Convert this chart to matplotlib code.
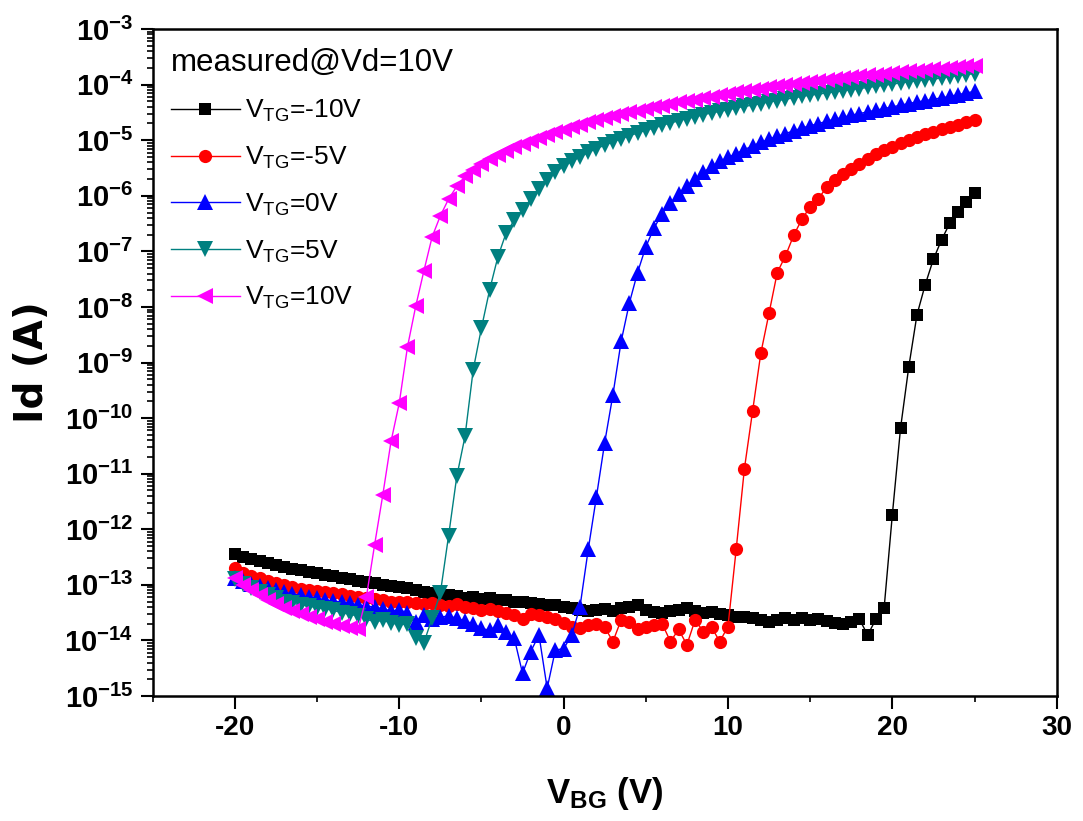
# Id-VBG transfer curves of a dual-gate FET at several top-gate voltages
import numpy as np
import matplotlib
matplotlib.use('Agg')
import matplotlib.pyplot as plt
from matplotlib.ticker import MultipleLocator, LogLocator, NullFormatter, FixedLocator

plt.rcParams['font.family'] = ['Liberation Sans', 'DejaVu Sans']
plt.rcParams['mathtext.fontset'] = 'custom'
plt.rcParams['mathtext.rm'] = 'Liberation Sans'
plt.rcParams['mathtext.it'] = 'Liberation Sans:italic'
plt.rcParams['mathtext.bf'] = 'Liberation Sans:bold'
plt.rcParams['mathtext.sf'] = 'Liberation Sans:bold'

# back-gate sweep, -20 V .. 25 V in 0.5 V steps
vbg = np.arange(-20, 25.01, 0.5)

# log10(Id), one value per sweep point
log_id_m10 = [
    -12.45, -12.50, -12.53, -12.57, -12.60, -12.64, -12.67, -12.71, -12.73, -12.76,
    -12.79, -12.82, -12.84, -12.87, -12.90, -12.93, -12.95, -12.97, -13.00, -13.02,
    -13.04, -13.06, -13.09, -13.12, -13.14, -13.17, -13.19, -13.20, -13.23, -13.22,
    -13.25, -13.24, -13.27, -13.28, -13.30, -13.31, -13.33, -13.34, -13.36, -13.37,
    -13.39, -13.42, -13.45, -13.47, -13.45, -13.44, -13.47, -13.42, -13.39, -13.37,
    -13.45, -13.48, -13.50, -13.47, -13.45, -13.42, -13.47, -13.50, -13.49, -13.52,
    -13.55, -13.58, -13.57, -13.60, -13.63, -13.66, -13.63, -13.60, -13.63, -13.60,
    -13.63, -13.61, -13.65, -13.68, -13.70, -13.66, -13.62, -13.90, -13.62, -13.42,
    -11.74, -10.18, -9.08, -8.14, -7.60, -7.14, -6.79, -6.49, -6.29, -6.12,
    -5.95]
log_id_m5 = [
    -12.70, -12.78, -12.84, -12.88, -12.93, -12.97, -13.01, -13.04, -13.07, -13.09,
    -13.11, -13.13, -13.15, -13.17, -13.20, -13.22, -13.24, -13.26, -13.28, -13.30,
    -13.31, -13.30, -13.33, -13.34, -13.32, -13.36, -13.38, -13.35, -13.40, -13.42,
    -13.45, -13.43, -13.47, -13.50, -13.55, -13.62, -13.52, -13.55, -13.58, -13.62,
    -13.68, -13.75, -13.78, -13.72, -13.70, -13.76, -14.02, -13.63, -13.66, -13.80,
    -13.76, -13.72, -13.70, -14.02, -13.80, -14.08, -13.63, -13.84, -13.76, -14.02,
    -13.75, -12.36, -10.91, -9.87, -8.83, -8.11, -7.38, -7.08, -6.71, -6.42,
    -6.20, -6.05, -5.85, -5.72, -5.61, -5.51, -5.42, -5.33, -5.25, -5.18,
    -5.12, -5.05, -4.99, -4.94, -4.89, -4.85, -4.80, -4.76, -4.72, -4.68,
    -4.64]
log_id_0 = [
    -12.88, -12.93, -12.98, -13.02, -13.06, -13.10, -13.13, -13.16, -13.19, -13.21,
    -13.24, -13.27, -13.29, -13.31, -13.33, -13.36, -13.38, -13.40, -13.43, -13.47,
    -13.45, -13.50, -13.66, -13.55, -13.62, -13.58, -13.56, -13.60, -13.65, -13.70,
    -13.78, -13.82, -13.72, -13.85, -13.96, -14.59, -14.20, -13.90, -14.86, -14.17,
    -14.15, -13.90, -13.39, -12.36, -11.41, -10.44, -9.58, -8.62, -7.93, -7.38,
    -6.92, -6.58, -6.32, -6.13, -5.97, -5.83, -5.70, -5.58, -5.47, -5.38,
    -5.31, -5.24, -5.17, -5.10, -5.04, -4.98, -4.93, -4.88, -4.83, -4.78,
    -4.74, -4.70, -4.66, -4.62, -4.59, -4.55, -4.52, -4.49, -4.46, -4.43,
    -4.40, -4.37, -4.34, -4.31, -4.29, -4.26, -4.24, -4.21, -4.18, -4.15,
    -4.12]
log_id_p5 = [
    -12.90, -12.98, -13.05, -13.12, -13.18, -13.24, -13.30, -13.33, -13.36, -13.38,
    -13.41, -13.43, -13.46, -13.50, -13.53, -13.56, -13.62, -13.66, -13.64, -13.68,
    -13.72, -13.70, -13.95, -14.04, -13.60, -13.15, -12.12, -11.05, -10.33, -9.13,
    -8.38, -7.69, -7.10, -6.67, -6.44, -6.25, -6.06, -5.88, -5.72, -5.58,
    -5.47, -5.38, -5.30, -5.22, -5.15, -5.09, -5.03, -4.97, -4.92, -4.87,
    -4.82, -4.78, -4.73, -4.69, -4.65, -4.61, -4.58, -4.54, -4.51, -4.48,
    -4.45, -4.42, -4.39, -4.37, -4.34, -4.31, -4.29, -4.26, -4.24, -4.21,
    -4.19, -4.17, -4.15, -4.13, -4.11, -4.09, -4.07, -4.05, -4.03, -4.01,
    -3.99, -3.97, -3.95, -3.93, -3.91, -3.90, -3.88, -3.86, -3.84, -3.82,
    -3.80]
log_id_p10 = [
    -12.88, -13.00, -13.10, -13.19, -13.27, -13.34, -13.41, -13.47, -13.52, -13.57,
    -13.62, -13.66, -13.70, -13.74, -13.78, -13.80, -13.22, -12.28, -11.38, -10.42,
    -9.73, -8.72, -7.99, -7.35, -6.74, -6.36, -6.06, -5.83, -5.65, -5.53,
    -5.43, -5.34, -5.26, -5.19, -5.13, -5.07, -5.01, -4.96, -4.91, -4.86,
    -4.81, -4.77, -4.72, -4.68, -4.64, -4.60, -4.56, -4.53, -4.50, -4.47,
    -4.44, -4.41, -4.38, -4.35, -4.32, -4.30, -4.27, -4.24, -4.22, -4.19,
    -4.17, -4.14, -4.12, -4.09, -4.07, -4.05, -4.03, -4.01, -3.99, -3.97,
    -3.95, -3.93, -3.91, -3.89, -3.88, -3.86, -3.85, -3.83, -3.82, -3.80,
    -3.79, -3.77, -3.76, -3.75, -3.74, -3.72, -3.71, -3.70, -3.69, -3.67,
    -3.66]

series = [log_id_m10, log_id_m5, log_id_0, log_id_p5, log_id_p10]
labels = [r'V$_{\mathrm{TG}}$=-10V', r'V$_{\mathrm{TG}}$=-5V', r'V$_{\mathrm{TG}}$=0V',
          r'V$_{\mathrm{TG}}$=5V', r'V$_{\mathrm{TG}}$=10V']
colors = ['#000000', '#ff0000', '#0000ff', '#008080', '#ff00ff']
markers = ['s', 'o', '^', 'v', '<']
msizes = [9, 9.5, 12, 12, 12]

fig = plt.figure(figsize=(10.83, 8.21), dpi=100)
ax = fig.add_axes([0.141, 0.1522, 0.8347, 0.8124])

for logs, lab, c, m, ms in zip(series, labels, colors, markers, msizes):
    ax.plot(vbg, np.power(10.0, logs), color=c, marker=m, markersize=ms,
            markeredgewidth=0, lw=1.0, label=lab)

ax.set_yscale('log')
ax.set_xlim(-25, 30)
ax.set_ylim(1e-15, 1e-3)

# x ticks
ax.xaxis.set_minor_locator(MultipleLocator(5))
xt = [-20, -10, 0, 10, 20, 30]
ax.set_xticks(xt)
ax.set_xticklabels([str(v) for v in xt], fontweight='bold', fontsize=20)

# y ticks
decades = list(range(-15, -2))
ax.yaxis.set_major_locator(FixedLocator([10.0 ** e for e in decades]))
ax.set_yticklabels([r'$\mathbf{10^{%d}}$' % e for e in decades], fontsize=21)
ax.yaxis.set_minor_locator(LogLocator(base=10, subs=np.arange(2, 10), numticks=100))
ax.yaxis.set_minor_formatter(NullFormatter())

ax.tick_params(which='both', direction='out', top=False, right=False)
ax.tick_params(which='major', length=9, width=1.5, pad=5)
ax.tick_params(which='minor', length=4.5, width=1.2)
for sp in ax.spines.values():
    sp.set_linewidth(1.8)

ax.set_xlabel(r'V$_{\mathsf{BG}}$ (V)', fontsize=25, fontweight='bold')
ax.xaxis.set_label_coords(0.5, -0.118)
ax.set_ylabel('Id (A)', fontsize=28, fontweight='bold', family='DejaVu Sans')
ax.yaxis.set_label_coords(-0.113, 0.5)

leg = ax.legend(loc='upper left', frameon=False, title='measured@Vd=10V',
                alignment='left', prop={'size': 19}, title_fontsize=22.5,
                numpoints=1, handlelength=2.6, handletextpad=0.2,
                labelspacing=0.78, borderaxespad=0.4, borderpad=0.3)

fig.savefig('out.png', dpi=100)
